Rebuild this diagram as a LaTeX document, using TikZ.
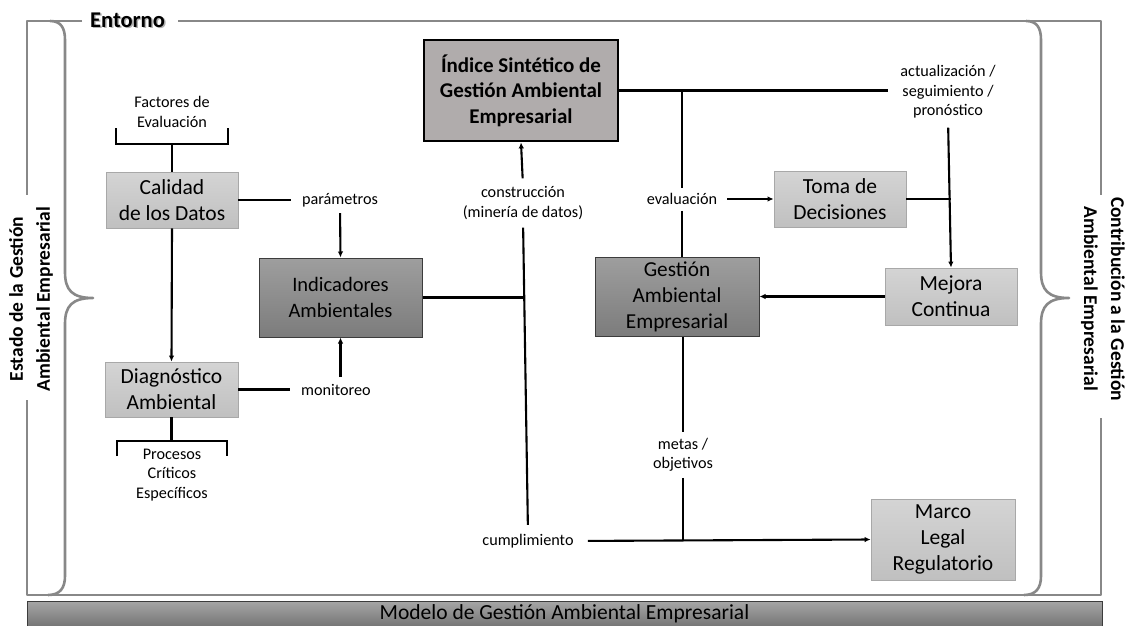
\documentclass[tikz,border=0pt]{standalone}
\usepackage{fontspec}
\setmainfont{Carlito}
\usetikzlibrary{arrows.meta,calc}

\definecolor{framegray}{RGB}{136,136,136}
\definecolor{lighttop}{RGB}{212,212,212}
\definecolor{lightbot}{RGB}{192,192,192}
\definecolor{lightedge}{RGB}{168,168,168}
\definecolor{darktop}{RGB}{158,158,158}
\definecolor{darkbot}{RGB}{124,124,124}
\definecolor{darkedge}{RGB}{60,60,60}
\definecolor{idxfill}{RGB}{176,172,172}
\definecolor{bartop}{RGB}{166,166,166}
\definecolor{barbot}{RGB}{118,118,118}

\begin{document}
\begin{tikzpicture}[x=1pt,y=-1pt,
  conn/.style={line width=2.1pt, black},
  arr/.style={conn, -{Latex[length=6pt,width=5.5pt]}},
  frame/.style={line width=2.6pt, framegray, line join=round},
  lightbox/.style={draw=lightedge, line width=0.8pt, top color=lighttop, bottom color=lightbot,
    align=center, inner sep=0pt, font=\fontsize{21.5}{26}\selectfont},
  darkbox/.style={draw=darkedge, line width=1pt, top color=darktop, bottom color=darkbot,
    align=center, inner sep=0pt, font=\fontsize{21.3}{26}\selectfont},
  idxbox/.style={draw=black, line width=2.8pt, fill=idxfill, align=center, inner sep=0pt,
    font=\bfseries\fontsize{21}{25.5}\selectfont},
  lbl/.style={align=center, inner sep=0pt, font=\fontsize{16.2}{19.5}\selectfont},
  sidetxt/.style={align=center, inner sep=0pt, font=\bfseries\fontsize{19.5}{27}\selectfont},
]
\useasboundingbox (0,0) rectangle (1128,626);

% outer frame with gaps for the titles
\draw[frame] (82,21) -- (27,21) -- (27,195);
\draw[frame] (178,21) -- (1101,21) -- (1101,195);
\draw[frame] (1101,418) -- (1101,595) -- (27,595) -- (27,400);

% braces
\draw[frame] (50,21) .. controls (61,21) and (65,28) .. (65,40) -- (65,272)
  .. controls (65,290) and (72,298) .. (93,298)
  .. controls (72,298) and (65,306) .. (65,324) -- (65,576)
  .. controls (65,588) and (60,595) .. (48,595);
\draw[frame] (1026,21) .. controls (1037,21) and (1041,28) .. (1041,40) -- (1041,272)
  .. controls (1041,290) and (1048,298) .. (1069,298)
  .. controls (1048,298) and (1041,306) .. (1041,324) -- (1041,576)
  .. controls (1041,588) and (1036,595) .. (1024,595);

% titles
\node[inner sep=0pt, text=black!30, font=\bfseries\fontsize{22.5}{27}\selectfont] (entshadow) at (129,21.5) {Entorno};
\node[inner sep=0pt, font=\bfseries\fontsize{22.5}{27}\selectfont] (ent) at (127.5,20) {Entorno};
\node[sidetxt, rotate=90] (lefttitle) at (31,299) {Estado de la Gestión\\Ambiental Empresarial};
\node[sidetxt, rotate=-90] (righttitle) at (1103,299) {Contribución a la Gestión\\Ambiental Empresarial};

% bottom banner
\node[draw=darkedge, line width=1pt, top color=bartop, bottom color=barbot, minimum width=1075pt,
  minimum height=25pt, inner sep=0pt, font=\fontsize{21.5}{25}\selectfont] (model) at (564.5,613.5)
  {Modelo de Gestión Ambiental Empresarial};

% boxes
\node[idxbox, minimum width=194pt, minimum height=101pt] (idx) at (521,90.5) {Índice Sintético de\\Gestión Ambiental\\Empresarial};
\node[lightbox, minimum width=132pt, minimum height=56pt] (cal) at (172,200) {Calidad\\de los Datos};
\node[lightbox, minimum width=133pt, minimum height=55pt] (diag) at (171.5,389.5) {Diagnóstico\\Ambiental};
\node[darkbox, minimum width=163pt, minimum height=79pt, font=\fontsize{20.5}{26}\selectfont] (ind) at (340.5,297.5) {Indicadores\\Ambientales};
\node[darkbox, minimum width=164pt, minimum height=79pt] (gest) at (677,296.5) {Gestión\\Ambiental\\Empresarial};
\node[lightbox, minimum width=132pt, minimum height=56pt] (toma) at (840,199) {Toma de\\Decisiones};
\node[lightbox, minimum width=132pt, minimum height=57pt] (mej) at (951,296.5) {Mejora\\Continua};
\node[lightbox, minimum width=144pt, minimum height=81pt] (marco) at (943,539.5) {Marco\\Legal\\Regulatorio};

% labels
\node[lbl] (fac) at (172,112) {Factores de\\Evaluación};
\node[lbl] (par) at (340,200) {parámetros};
\node[lbl] (mon) at (336,390) {monitoreo};
\node[lbl] (proc) at (172,475) {Procesos\\Críticos\\Específicos};
\node[lbl] (con) at (523,203) {construcción\\(minería de datos)};
\node[lbl] (eva) at (682,199) {evaluación};
\node[lbl] (act) at (948,92) {actualización /\\seguimiento /\\pronóstico};
\node[lbl] (met) at (683,455) {metas /\\objetivos};
\node[lbl] (cum) at (528,541) {cumplimiento};

% brackets
\coordinate (facbar) at (172,144);
\coordinate (procbar) at (172,441);
\draw[conn] (116,128) |- (228,144) -- (228,128);
\draw[conn] (117,456) |- (227,441) -- (227,456);
\draw[conn] (cal.north) -- (cal.north |- facbar);
\draw[conn] (diag.south) -- (diag.south |- procbar);

% left part
\draw[conn, shorten >=11pt] (cal.east) -- (cal.east -| par.west);
\draw[arr, shorten <=6pt] (par.south) -- (ind.north);
\draw[arr] (cal.south) -- (diag.north);
\draw[conn, shorten >=11pt] (diag.east) -- (diag.east -| mon.west);
\draw[arr, shorten <=7pt] (ind.south |- mon.north) -- (ind.south);

% central spine
\draw[conn] (ind.east) -- (ind.east -| con.south);
\draw[conn, shorten <=8pt, shorten >=9pt] (con.south) -- (cum.north);
\draw[arr, shorten <=8pt] (con.north) -- (idx.south);
\draw[arr, shorten <=14pt] (cum.east) -- (marco.west);

% right part
\draw[conn, shorten >=12pt] (idx.east) -- (idx.east -| act.west);
\draw[conn, shorten >=5pt] (eva.north |- idx.east) -- (eva.north);
\draw[conn, shorten <=6pt] (eva.south) -- (eva.south |- gest.north);
\draw[arr, shorten <=10pt] (eva.east) -- (toma.west);
\draw[arr, shorten <=9pt] (act.south) -- (mej.north);
\draw[conn] (toma.east) -- (toma.east -| mej.north);
\draw[arr] (mej.west) -- (gest.east);
\draw[conn, shorten >=6pt] (met.north |- gest.south) -- (met.north);
\draw[conn, shorten <=6pt] (met.south) -- (met.south |- marco.west);
\end{tikzpicture}
\end{document}
